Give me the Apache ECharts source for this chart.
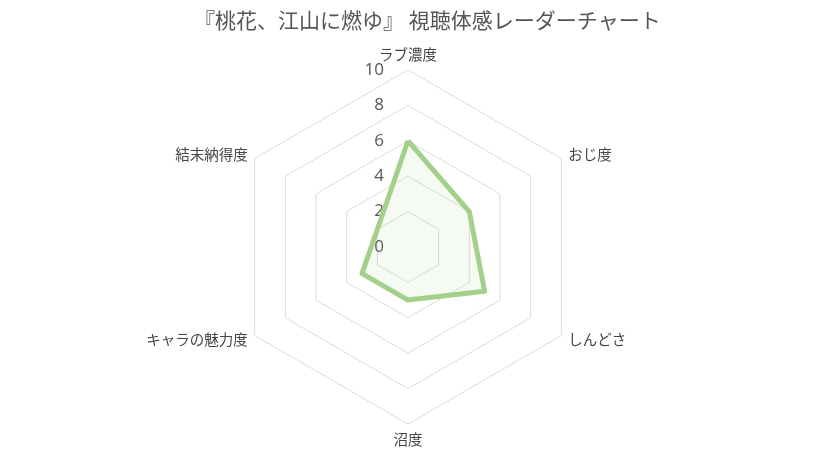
<!DOCTYPE html>
<html>
<head>
<meta charset="utf-8">
<script src="https://cdn.jsdelivr.net/npm/echarts@6/dist/echarts.min.js"></script>
<style>
  html, body { margin: 0; padding: 0; background: #fff; }
  #chart { width: 820px; height: 452px; }
</style>
</head>
<body>
<div id="chart"></div>
<script>
// 指標（上から反時計回りの順）
const indicators = ['ラブ濃度', '結末納得度', 'キャラの魅力度', '沼度', 'しんどさ', 'おじ度'];
const scores = [6, 2, 3, 3, 5, 4];
const maxScore = 10;
const tickLabels = ['0', '2', '4', '6', '8', '10'];

const chart = echarts.init(document.getElementById('chart'));
chart.setOption({
    textStyle: { fontFamily: '"Noto Sans CJK JP", "Noto Sans", sans-serif' },
    title: {
        text: '『桃花、江山に燃ゆ』 視聴体感レーダーチャート',
        left: 189,
        top: 5,
        textStyle: { fontSize: 21, fontWeight: 'normal', color: '#555' }
    },
    radar: {
        center: [408, 247],
        radius: 177,
        startAngle: 90,
        splitNumber: 5,
        shape: 'polygon',
        axisName: { color: '#444', fontSize: 14.5 },
        nameGap: 8,
        splitLine: { lineStyle: { color: '#dcdcdc', width: 1 } },
        splitArea: { show: false },
        axisLine: { show: false },
        axisTick: { show: false },
        axisLabel: { show: false },
        indicator: indicators.map((name, i) => {
            const ind = { name: name, min: 0, max: maxScore };
            if (i === 0) {
                ind.axisLabel = {
                    show: true,
                    color: '#555',
                    fontSize: 17,
                    fontFamily: '"Open Sans", sans-serif',
                    margin: 24,
                    formatter: v => tickLabels[Math.round(v / 2)] ?? ''
                };
            }
            return ind;
        })
    },
    series: [{
        type: 'radar',
        symbol: 'none',
        lineStyle: { color: '#a4d08b', width: 5 },
        areaStyle: { color: 'rgba(164, 208, 139, 0.15)' },
        data: [{ value: scores, name: '視聴体感' }]
    }]
});
</script>
</body>
</html>
